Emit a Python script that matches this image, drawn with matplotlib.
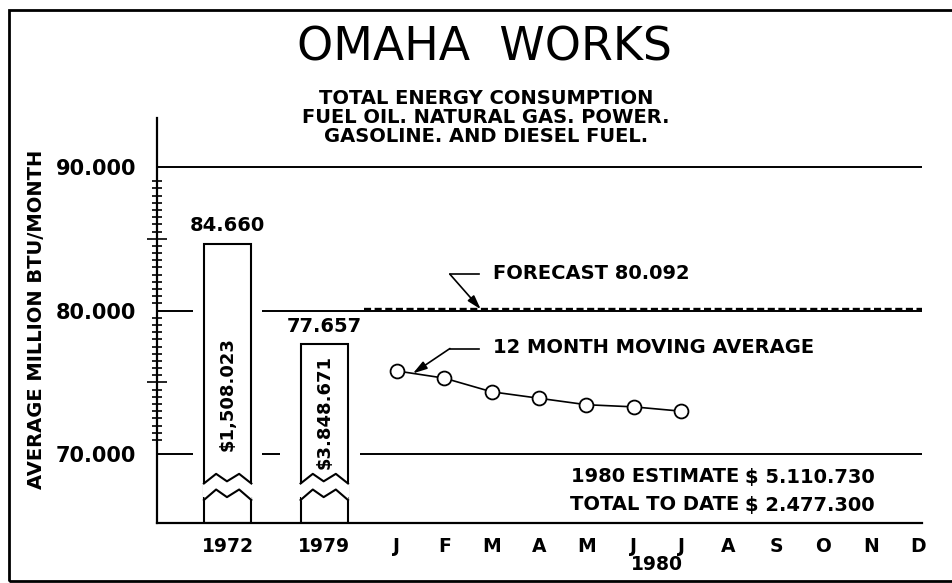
import numpy as np
import matplotlib.pyplot as plt
from matplotlib.patches import Rectangle

W, H = 952, 583

# datos del grafico
years = ['1972', '1979']
year_pos = [-3.57, -1.53]
year_btu = [84660, 77657]
year_cost = ['$1,508.023', '$3.848.671']
months = ['J', 'F', 'M', 'A', 'M', 'J', 'J', 'A', 'S', 'O', 'N', 'D']
avg_btu = [75800, 75300, 74350, 73900, 73450, 73300, 73000]
forecast = 80092
yticks = [70000, 75000, 80000, 85000, 90000]
ytick_labels = ['70.000', '', '80.000', '', '90.000']
minor_ticks = [v for v in range(71000, 89500, 500) if v % 5000 != 0]
title = 'OMAHA  WORKS'
subtitle = ['TOTAL ENERGY CONSUMPTION',
            'FUEL OIL. NATURAL GAS. POWER.',
            'GASOLINE. AND DIESEL FUEL.']
estimate = ('1980 ESTIMATE', '$ 5.110.730')
to_date = ('TOTAL TO DATE', '$ 2.477.300')


def fx(px):
    return px / W


def fy(py):
    return 1 - py / H


fig = plt.figure(figsize=(W / 100, H / 100), dpi=100)
fig.patch.set_facecolor('white')
ax = fig.add_axes([fx(157), fy(523), (922 - 157) / W, (523 - 118) / H])
ax.set_xlim(-5.06, 11.08)
ax.set_ylim(65220, 93400)
x0, x1 = ax.get_xlim()
ybot = ax.get_ylim()[0]

for s in ['top', 'right']:
    ax.spines[s].set_visible(False)
for s in ['left', 'bottom']:
    ax.spines[s].set_linewidth(1.6)

# lineas horizontales con huecos alrededor de las barras
bw = 1.0
b1l, b1r = year_pos[0] - bw / 2, year_pos[0] + bw / 2
b2l, b2r = year_pos[1] - bw / 2, year_pos[1] + bw / 2
lk = dict(color='black', lw=1.4)
ax.hlines([90000], [x0], [x1], **lk)
ax.hlines([80000] * 2, [x0, b1r + 0.23], [b1l - 0.23, x1], **lk)
ax.hlines([70000] * 3, [x0, b1r + 0.23, b2r + 0.25], [b1l - 0.23, b2l - 0.44, x1], **lk)

# pronostico
ax.plot([-0.7, x1], [forecast, forecast], color='black', lw=1.7, ls=(0, (3, 1.5)))

# barras con corte
ax.bar(year_pos, [v - ybot for v in year_btu], bottom=ybot, width=bw,
       facecolor='white', edgecolor='black', lw=1.5, zorder=2)
fr = np.array([0, 0.257, 0.486, 0.743, 1.0])
up = np.array([2750, 3420, 2900, 3420, 2750])
lo = np.array([1600, 2330, 1800, 2330, 1600])
for xc in year_pos:
    xs = xc - bw / 2 + fr * bw
    ax.fill_between(xs, ybot + lo, ybot + up, color='white', zorder=3, lw=0)
    ax.fill_between([xs[0] - 0.03, xs[-1] + 0.03], ybot + 1800, ybot + 2740,
                    color='white', zorder=3, lw=0)
    ax.plot(xs, ybot + up, color='black', lw=1.5, zorder=4)
    ax.plot(xs, ybot + lo, color='black', lw=1.5, zorder=4)

for xc, v, c, yl in zip(year_pos, year_btu, year_cost, [74200, 72950]):
    ax.annotate(f'{v:,}'.replace(',', '.'), xy=(xc, v), xytext=(0, 6),
                textcoords='offset points', ha='center', va='bottom',
                fontsize=14, fontweight='bold')
    ax.text(xc, yl, c, rotation=90, ha='center', va='center',
            fontsize=13, fontweight='bold', zorder=5)

# promedio movil
ax.plot(range(len(avg_btu)), avg_btu, '-o', color='black', lw=1.2,
        ms=10, mfc='white', mec='black', mew=1.3, zorder=5)

# flechas de referencia
t = 0.34
ytip = avg_btu[0] + t * (avg_btu[1] - avg_btu[0])
ak = dict(arrowstyle='-|>,head_length=0.6,head_width=0.18', color='black',
          lw=1.2, shrinkA=0, shrinkB=0, mutation_scale=14)
ax.annotate('', xy=(t, ytip), xytext=(1.12, 77360), arrowprops=ak, zorder=6)
ax.plot([1.12, 1.73], [77360, 77360], color='black', lw=1.2)
ax.text(2.03, 77430, '12 MONTH MOVING AVERAGE', ha='left', va='center',
        fontsize=14, fontweight='bold')

ax.annotate('', xy=(1.77, forecast), xytext=(1.12, 82530), arrowprops=ak, zorder=6)
ax.plot([1.12, 1.73], [82530, 82530], color='black', lw=1.2)
ax.text(2.03, 82600, f'FORECAST {forecast:,}'.replace(',', '.'), ha='left',
        va='center', fontsize=14, fontweight='bold')

# ejes
ax.set_xticks(year_pos + list(range(12)))
ax.set_xticklabels(years + months, fontsize=13.5, fontweight='bold')
ax.tick_params(axis='x', length=0, pad=10)

ax.set_yticks(yticks)
ax.set_yticklabels(ytick_labels, fontsize=15, fontweight='bold')
ax.set_yticks(minor_ticks, minor=True)
ax.tick_params(axis='y', which='major', direction='inout', length=14.4,
               width=1.2, pad=7.8)
ax.tick_params(axis='y', which='minor', direction='inout', length=7.2, width=1.2)
for tk, v in zip(ax.yaxis.get_major_ticks(), yticks):
    if v % 10000 == 0:
        tk.tick1line.set_markersize(0)

fig.text(fx(657), fy(565), '1980', ha='center', va='center',
         fontsize=13.5, fontweight='bold')

# titulos
fig.text(fx(484), fy(48), title, ha='center', va='center', fontsize=33)
for i, line in enumerate(subtitle):
    fig.text(fx(486), fy(98 + 19.5 * i), line, ha='center', va='center',
             fontsize=14, fontweight='bold')
fig.text(fx(37), fy(319), 'AVERAGE MILLION BTU/MONTH', rotation=90,
         ha='center', va='center', fontsize=14, fontweight='bold')

# totales
for (lab, val), py in zip([estimate, to_date], [477, 505]):
    fig.text(fx(739), fy(py), lab, ha='right', va='center',
             fontsize=14, fontweight='bold')
    fig.text(fx(745), fy(py), val, ha='left', va='center',
             fontsize=14, fontweight='bold')

# marco exterior
fig.add_artist(Rectangle((fx(9), fy(581)), 1.0, (581 - 10) / H,
                         transform=fig.transFigure, fill=False,
                         edgecolor='black', lw=2))

fig.savefig('out.png', dpi=100)
